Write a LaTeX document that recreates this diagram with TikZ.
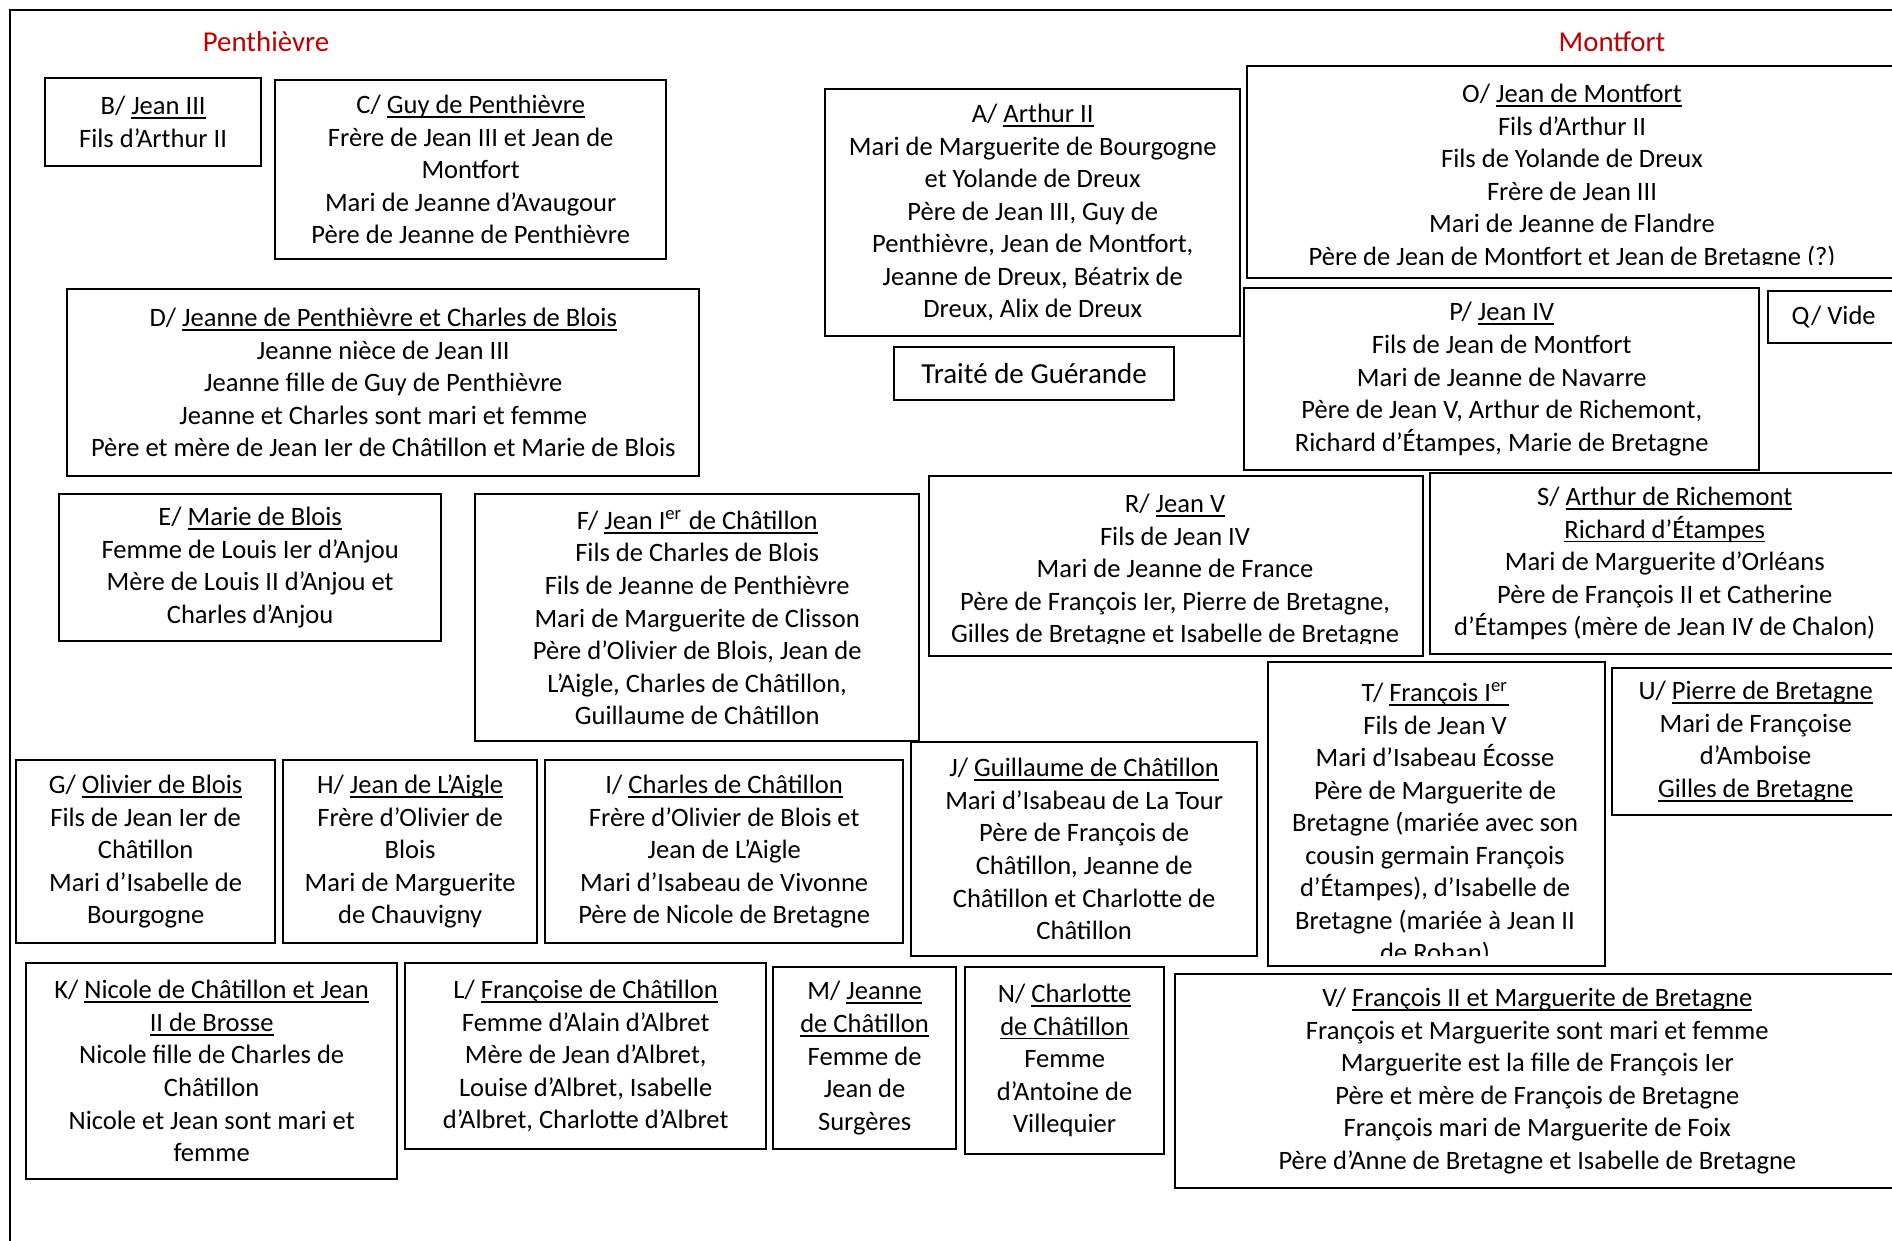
\documentclass[tikz,border=0pt]{standalone}
\usepackage{fontspec}
\setmainfont{Carlito}
\usetikzlibrary{positioning}
\definecolor{rougeTitre}{HTML}{C00000}
\newsavebox{\boiteSoul}
\newcommand{\souligne}[1]{\sbox{\boiteSoul}{#1}\rlap{\rule[-1.2pt]{\wd\boiteSoul}{0.5pt}}\usebox{\boiteSoul}}

\begin{document}
\begin{tikzpicture}[x=0.01cm,y=-0.01cm,fiche/.style={draw,line width=0.6pt,anchor=north west,align=center,inner sep=0pt,font=\fontsize{7.55}{9.25}\selectfont},texte/.style={align=center,inner sep=0pt,font=\fontsize{7.55}{9.25}\selectfont},titre/.style={text=rougeTitre,font=\fontsize{8.2}{10}\selectfont}]
\clip (0,0) rectangle (1892,1240);
\draw[line width=0.6pt] (10,1250) -- (10,10) -- (1900,10);
\node[titre] (penthievre) at (266,42) {Penthièvre};
\node[titre] (montfort) at (1612,42) {Montfort};
\node[fiche,minimum width=2.16cm,minimum height=0.88cm] (b) at (44,77) {B/ \souligne{Jean III}\\Fils d’Arthur II};
\node[fiche,minimum width=3.91cm,minimum height=1.79cm] (c) at (274,79) {C/ \souligne{Guy de Penthièvre}\\Frère de Jean III et Jean de\\Montfort\\Mari de Jeanne d’Avaugour\\Père de Jeanne de Penthièvre};
\node[fiche,minimum width=4.15cm,minimum height=2.47cm] (a) at (824,88) {A/ \souligne{Arthur II}\\Mari de Marguerite de Bourgogne\\et Yolande de Dreux\\Père de Jean III, Guy de\\Penthièvre, Jean de Montfort,\\Jeanne de Dreux, Béatrix de\\Dreux, Alix de Dreux};
\node[fiche,minimum width=6.52cm,minimum height=2.12cm] (o) at (1246,65) {};
\begin{scope}
\clip (1246,65) rectangle (1898,265);
\node[texte] (o-texte) at (1572,177) {O/ \souligne{Jean de Montfort}\\Fils d’Arthur II\\Fils de Yolande de Dreux\\Frère de Jean III\\Mari de Jeanne de Flandre\\Père de Jean de Montfort et Jean de Bretagne (?)};
\end{scope}
\node[fiche,minimum width=2.80cm,minimum height=0.53cm,font=\fontsize{8.25}{10}\selectfont] (traite) at (893,346) {Traité de Guérande};
\node[fiche,minimum width=6.32cm,minimum height=1.87cm] (d) at (66,288) {D/ \souligne{Jeanne de Penthièvre et Charles de Blois}\\Jeanne nièce de Jean III\\Jeanne fille de Guy de Penthièvre\\Jeanne et Charles sont mari et femme\\Père et mère de Jean Ier de Châtillon et Marie de Blois};
\node[fiche,minimum width=5.15cm,minimum height=1.82cm] (p) at (1243,287) {P/ \souligne{Jean IV}\\Fils de Jean de Montfort\\Mari de Jeanne de Navarre\\Père de Jean V, Arthur de Richemont,\\Richard d’Étampes, Marie de Bretagne};
\node[fiche,minimum width=1.31cm,minimum height=0.52cm] (q) at (1767,290) {Q/ Vide};
\node[fiche,minimum width=3.82cm,minimum height=1.47cm] (e) at (58,493) {E/ \souligne{Marie de Blois}\\Femme de Louis Ier d’Anjou\\Mère de Louis II d’Anjou et\\Charles d’Anjou};
\node[fiche,minimum width=4.44cm,minimum height=2.47cm] (f) at (474,493) {F/ \souligne{Jean I\textsuperscript{er} de Châtillon}\\Fils de Charles de Blois\\Fils de Jeanne de Penthièvre\\Mari de Marguerite de Clisson\\Père d’Olivier de Blois, Jean de\\L’Aigle, Charles de Châtillon,\\Guillaume de Châtillon};
\node[fiche,minimum width=4.94cm,minimum height=1.80cm] (r) at (928,475) {};
\begin{scope}
\clip (928,475) rectangle (1422,643);
\node[texte] (r-texte) at (1175,571) {R/ \souligne{Jean V}\\Fils de Jean IV\\Mari de Jeanne de France\\Père de François Ier, Pierre de Bretagne,\\Gilles de Bretagne et Isabelle de Bretagne};
\end{scope}
\node[fiche,minimum width=4.69cm,minimum height=1.81cm] (s) at (1429,472) {S/ \souligne{Arthur de Richemont}\\\souligne{Richard d’Étampes}\\Mari de Marguerite d’Orléans\\Père de François II et Catherine\\d’Étampes (mère de Jean IV de Chalon)};
\node[fiche,minimum width=2.59cm,minimum height=1.83cm] (g) at (15,759) {G/ \souligne{Olivier de Blois}\\Fils de Jean Ier de\\Châtillon\\Mari d’Isabelle de\\Bourgogne};
\node[fiche,minimum width=2.54cm,minimum height=1.83cm] (h) at (282,759) {H/ \souligne{Jean de L’Aigle}\\Frère d’Olivier de\\Blois\\Mari de Marguerite\\de Chauvigny};
\node[fiche,minimum width=3.58cm,minimum height=1.83cm] (i) at (544,759) {I/ \souligne{Charles de Châtillon}\\Frère d’Olivier de Blois et\\Jean de L’Aigle\\Mari d’Isabeau de Vivonne\\Père de Nicole de Bretagne};
\node[fiche,minimum width=3.46cm,minimum height=2.14cm] (j) at (910,741) {J/ \souligne{Guillaume de Châtillon}\\Mari d’Isabeau de La Tour\\Père de François de\\Châtillon, Jeanne de\\Châtillon et Charlotte de\\Châtillon};
\node[fiche,minimum width=3.37cm,minimum height=3.04cm] (t) at (1267,661) {};
\begin{scope}
\clip (1267,661) rectangle (1604,955);
\node[texte] (t-texte) at (1435,824) {T/ \souligne{François I\textsuperscript{er}}\\Fils de Jean V\\Mari d’Isabeau Écosse\\Père de Marguerite de\\Bretagne (mariée avec son\\cousin germain François\\d’Étampes), d’Isabelle de\\Bretagne (mariée à Jean II\\de Rohan)};
\end{scope}
\node[fiche,minimum width=2.87cm,minimum height=1.47cm] (u) at (1611,667) {U/ \souligne{Pierre de Bretagne}\\Mari de Françoise\\d’Amboise\\\souligne{Gilles de Bretagne}};
\node[fiche,minimum width=3.71cm,minimum height=2.16cm] (k) at (25,962) {K/ \souligne{Nicole de Châtillon et Jean}\\\souligne{II de Brosse}\\Nicole fille de Charles de\\Châtillon\\Nicole et Jean sont mari et\\femme};
\node[fiche,minimum width=3.61cm,minimum height=1.86cm] (l) at (404,962) {L/ \souligne{Françoise de Châtillon}\\Femme d’Alain d’Albret\\Mère de Jean d’Albret,\\Louise d’Albret, Isabelle\\d’Albret, Charlotte d’Albret};
\node[fiche,minimum width=1.83cm,minimum height=1.82cm] (m) at (772,966) {M/ \souligne{Jeanne}\\\souligne{de Châtillon}\\Femme de\\Jean de\\Surgères};
\node[fiche,minimum width=1.99cm,minimum height=1.87cm] (n) at (964,966) {N/ \souligne{Charlotte}\\\souligne{de Châtillon}\\Femme\\d’Antoine de\\Villequier};
\node[fiche,minimum width=7.24cm,minimum height=2.14cm] (v) at (1174,973) {V/ \souligne{François II et Marguerite de Bretagne}\\François et Marguerite sont mari et femme\\Marguerite est la fille de François Ier\\Père et mère de François de Bretagne\\François mari de Marguerite de Foix\\Père d’Anne de Bretagne et Isabelle de Bretagne};
\end{tikzpicture}
\end{document}
